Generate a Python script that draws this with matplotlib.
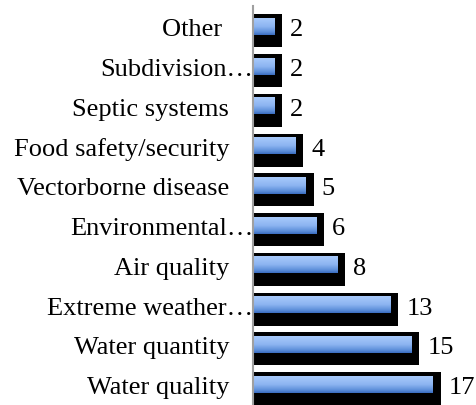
import numpy as np
import matplotlib
matplotlib.use("Agg")
import matplotlib.pyplot as plt
from matplotlib.colors import LinearSegmentedColormap
from matplotlib.transforms import offset_copy

# bottom to top, as drawn
categories = ["Water quality", "Water quantity", "Extreme weather\u2026", "Air quality",
              "Environmental\u2026", "Vectorborne disease", "Food safety/security",
              "Septic systems", "Subdivision\u2026", "Other "]
values = [17, 15, 13, 8, 6, 5, 4, 2, 2, 2]

plt.rcParams["font.family"] = ["Liberation Serif", "DejaVu Serif"]
fs = 19
base_dy = -8.7  # baseline sits half a cap height below the bar centre

fig = plt.figure(figsize=(4.76, 4.06), dpi=100)
ax = fig.add_axes([253 / 476, 0, 223 / 476, 399 / 406])

px_x = 10.56   # pixels per unit
pitch = 39.8   # pixels per category
blue_h = 16.5 / pitch
shad_h = 33 / pitch
shad_dy = 4.25 / pitch
shad_dx = 8 / px_x

grad = LinearSegmentedColormap.from_list(
    "bar", [(0, "#3A6DC0"), (0.18, "#5E90DA"), (0.5, "#8CB4F1"), (1, "#A8CAFB")])
g = np.linspace(0, 1, 64).reshape(-1, 1)

y = np.arange(len(categories))
ax.barh(y - shad_dy, [v + shad_dx for v in values], height=shad_h, color="black", zorder=1)
for yi, v in zip(y, values):
    ax.imshow(g, cmap=grad, origin="lower", aspect="auto", interpolation="bilinear",
              extent=(0, v, yi - blue_h / 2, yi + blue_h / 2), zorder=2)
    ax.text(v + shad_dx, yi, str(v), fontsize=fs, va="baseline", ha="left",
            transform=offset_copy(ax.transData, fig=fig, x=8, y=base_dy, units="dots"))

ax.set_xlim(0, 223 / px_x)
ax.set_ylim(-0.515, 9.515)
ax.set_yticks([])
ax.set_xticks([])
for s in ["top", "right", "bottom"]:
    ax.spines[s].set_visible(False)
ax.spines["left"].set_color("#A0A0A0")
ax.spines["left"].set_linewidth(1.5)
ax.spines["left"].set_zorder(3)

# category labels, truncated ones hang their ellipsis toward the axis
for yi, lab in zip(y, categories):
    dx = 0 if lab.endswith("\u2026") else -24
    tr = offset_copy(ax.get_yaxis_transform(), fig=fig, x=dx, y=base_dy, units="dots")
    ax.text(0, yi, lab, fontsize=fs, va="baseline", ha="right", transform=tr)

fig.savefig("out.png", dpi=100)
